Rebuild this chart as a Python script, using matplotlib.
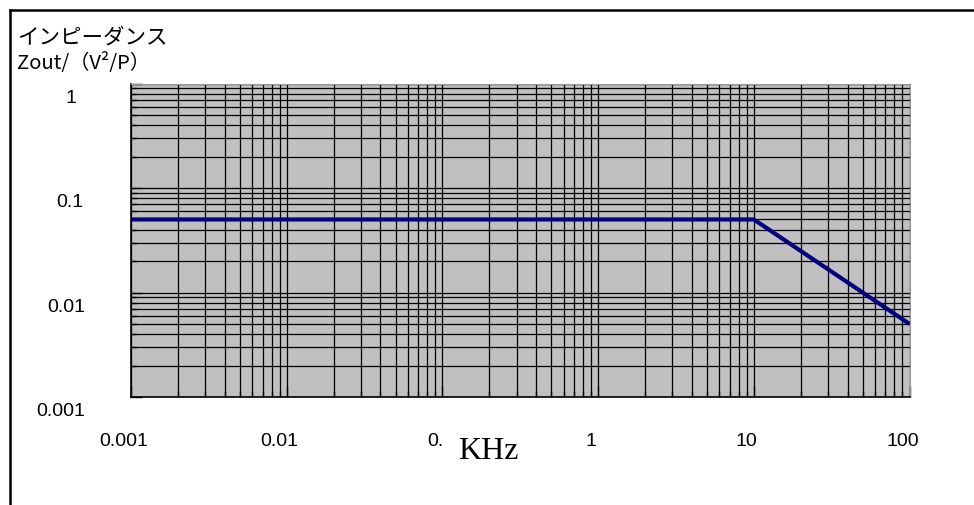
import matplotlib.pyplot as plt
from matplotlib.lines import Line2D

# frequency (kHz) and impedance Zout/(V^2/P)
freq = [0.001, 10, 100]
zout = [0.05, 0.05, 0.005]

x_ticks = [0.001, 0.01, 0.1, 1, 10, 100]
x_labels = ["0.001", "0.01", "0.", "1", "10", "100"]
y_ticks = [1, 0.1, 0.01, 0.001]
y_labels = ["1", "0.1", "0.01", "0.001"]
y_label_x = [71, 70, 66, 61]

title = "インピーダンス"
unit = "Zout/（V²/P）"
x_name = "KHz"

jp = ["Noto Sans CJK JP", "DejaVu Sans"]
sans = ["Liberation Sans", "DejaVu Sans"]

fig = plt.figure(figsize=(9.74, 5.06), dpi=100)
ax = fig.add_axes([131 / 974, 1 - 398 / 506, (909.5 - 131) / 974, (398 - 84.5) / 506])

ax.set_xscale("log")
ax.set_yscale("log")
ax.set_xlim(0.001, 100)
ax.set_ylim(0.001, 1)
ax.set_facecolor("#c0c0c0")

ax.grid(True, which="both", color="black", linewidth=0.9)
ax.set_axisbelow(True)
ax.plot(freq, zout, color="#000080", linewidth=3, solid_capstyle="butt", clip_on=False)

ax.tick_params(which="major", direction="in", length=8, width=1, color="black",
               labelbottom=False, labelleft=False)
ax.tick_params(which="minor", direction="in", length=4, width=1, color="black")
ax.tick_params(top=False, right=False)
for s in ["top", "right"]:
    ax.spines[s].set_color("#999999")
for s in ["left", "bottom"]:
    ax.spines[s].set_color("black")
    ax.spines[s].set_linewidth(1.2)

# tick labels sit off the grid lines like in the original
for v, lab, px in zip(y_ticks, y_labels, y_label_x):
    ax.annotate(lab, xy=(px, v), xycoords=("figure pixels", "data"),
                xytext=(0, -14), textcoords="offset pixels",
                ha="center", va="center", fontsize=14, family=sans)
for v, lab in zip(x_ticks, x_labels):
    ax.annotate(lab, xy=(v, 506 - 442), xycoords=("data", "figure pixels"),
                xytext=(-7, 0), textcoords="offset pixels",
                ha="center", va="center", fontsize=14, family=sans)

fig.text(488 / 974, 1 - 452 / 506, x_name, ha="center", va="center",
         fontsize=23, family=["Liberation Serif", "DejaVu Serif"])
fig.text(17 / 974, 1 - 38 / 506, title, ha="left", va="center", fontsize=15.5, family=jp)
fig.text(17 / 974, 1 - 64 / 506, unit, ha="left", va="center", fontsize=14.5, family=jp)

# outer frame (top and left edges)
fig.add_artist(Line2D([9.5 / 974, 1], [1 - 10.5 / 506] * 2, color="black", linewidth=1.8))
fig.add_artist(Line2D([9.5 / 974] * 2, [0, 1 - 10.5 / 506], color="black", linewidth=1.8))

fig.savefig("out.png", dpi=100)
